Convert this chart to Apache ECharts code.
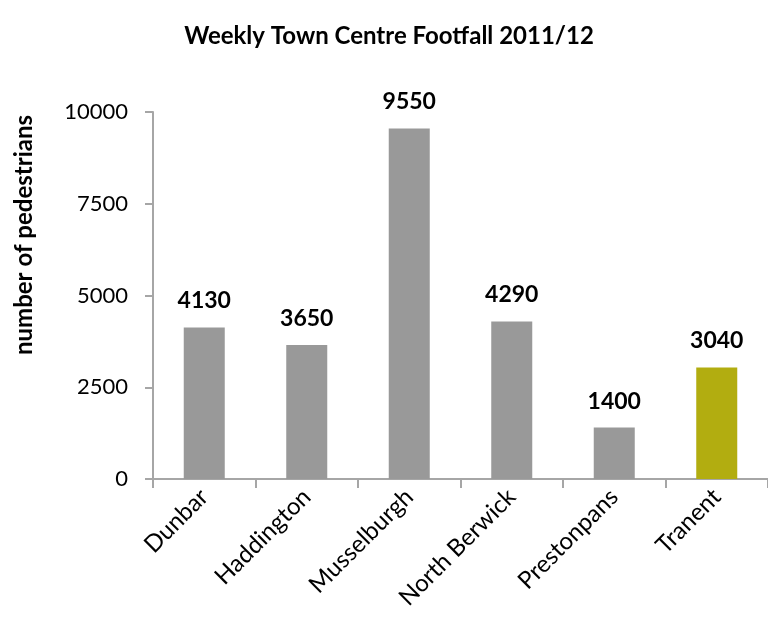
<!DOCTYPE html>
<html>
<head>
<meta charset="utf-8">
<script src="https://cdn.jsdelivr.net/npm/echarts@6/dist/echarts.min.js"></script>
<style>
  html, body { margin: 0; padding: 0; background: #ffffff; }
  #chart { width: 768px; height: 621px; }
</style>
</head>
<body>
<div id="chart"></div>
<script>
// Town centres and their weekly pedestrian counts
const towns = ['Dunbar', 'Haddington', 'Musselburgh', 'North Berwick', 'Prestonpans', 'Tranent'];
const footfall = [4130, 3650, 9550, 4290, 1400, 3040];
const highlightTown = 'Tranent';
const yTicks = [0, 2500, 5000, 7500, 10000];

const FONT = 'Lato, "Open Sans", sans-serif';
const GREY = '#999999';
const OLIVE = '#b2ad10';
const AXIS = '#a6a6a6';

const chart = echarts.init(document.getElementById('chart'), null, { renderer: 'canvas' });

chart.setOption({
  animation: false,
  backgroundColor: '#ffffff',
  title: {
    text: 'Weekly Town Centre Footfall 2011/12',
    left: 384,
    top: 19,
    textAlign: 'center',
    textStyle: { fontFamily: FONT, fontWeight: 'bold', fontSize: 24, color: '#000000' }
  },
  grid: { left: 153, right: -4, top: 112, bottom: 142, containLabel: false },
  xAxis: {
    type: 'category',
    data: towns,
    boundaryGap: true,
    axisLine: { show: true, lineStyle: { color: AXIS, width: 2 } },
    axisTick: { show: true, alignWithLabel: false, length: 9, lineStyle: { color: AXIS, width: 2 } },
    axisLabel: {
      rotate: 45,
      margin: 14,
      interval: 0,
      fontFamily: FONT,
      fontSize: 24,
      color: '#000000'
    },
    splitLine: { show: false }
  },
  yAxis: {
    type: 'value',
    min: yTicks[0],
    max: yTicks[yTicks.length - 1],
    interval: yTicks[1] - yTicks[0],
    axisLine: { show: true, lineStyle: { color: AXIS, width: 2 } },
    axisTick: { show: true, inside: false, length: 8, lineStyle: { color: AXIS, width: 2 } },
    axisLabel: {
      margin: 25,
      fontFamily: FONT,
      fontSize: 22,
      color: '#000000',
      formatter: (v) => String(v)
    },
    splitLine: { show: false }
  },
  graphic: [{
    type: 'text',
    x: 24,
    y: 235,
    rotation: Math.PI / 2,
    style: {
      text: 'number of pedestrians',
      fontFamily: FONT,
      fontWeight: 'bold',
      fontSize: 24,
      fill: '#000000',
      align: 'center',
      verticalAlign: 'middle'
    }
  }],
  series: [{
    type: 'bar',
    barWidth: 41,
    data: footfall.map((v, i) => ({
      value: v,
      itemStyle: { color: towns[i] === highlightTown ? OLIVE : GREY }
    })),
    label: {
      show: true,
      position: 'top',
      distance: 15,
      fontFamily: FONT,
      fontWeight: 'bold',
      fontSize: 23,
      color: '#000000'
    }
  }]
});
</script>
</body>
</html>
